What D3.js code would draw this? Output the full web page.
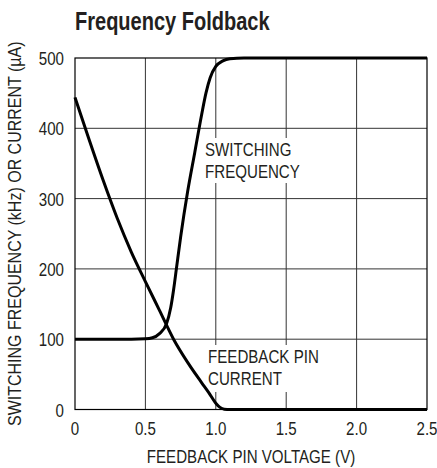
<!DOCTYPE html>
<html>
<head>
<meta charset="utf-8">
<script src="https://cdn.jsdelivr.net/npm/d3@7"></script>
<style>
  body { margin: 0; background: #fff; }
  text { font-family: "Liberation Sans Narrow", "Arial Narrow", "Liberation Sans", sans-serif; fill: #231f20; }
</style>
</head>
<body>
<div id="chart"></div>
<script>
// feedback pin voltage (V) and switching frequency (kHz)
const freqV = [0, 0.2, 0.4, 0.5, 0.55, 0.6, 0.65, 0.68, 0.7, 0.72, 0.75, 0.8, 0.85, 0.9, 0.93, 0.96, 1.0, 1.05, 1.1, 1.2, 1.5, 2.0, 2.5];
const freqKHz = [100, 100, 100, 100.5, 102, 108, 122, 145, 170, 200, 245, 310, 365, 420, 450, 472, 488, 496, 499, 500, 500, 500, 500];

// feedback pin voltage (V) and feedback pin current (uA)
const curV = [0, 0.1, 0.2, 0.3, 0.4, 0.5, 0.6, 0.7, 0.8, 0.9, 0.95, 1.0, 1.03, 1.06, 1.1, 1.5, 2.0, 2.5];
const curUA = [444, 384, 326, 272, 224, 182, 141, 100, 67, 38, 24, 9, 3, 0.5, 0, 0, 0, 0];

const xTicks = [0, 0.5, 1.0, 1.5, 2.0, 2.5];
const xTickLabels = ["0", "0.5", "1.0", "1.5", "2.0", "2.5"];
const yTicks = [0, 100, 200, 300, 400, 500];

const width = 437;
const height = 468;
const margin = { top: 58, right: 10, bottom: 58.5, left: 75 };
const narrow = 0.84; // no condensed font installed, squeeze the sans instead

const svg = d3.select("#chart")
  .append("svg")
  .attr("width", width)
  .attr("height", height);

var x = d3.scaleLinear()
  .domain([0, 2.5])
  .range([margin.left, width - margin.right]);

var y = d3.scaleLinear()
  .domain([0, 500])
  .range([height - margin.bottom, margin.top]);

function txt(g, tx, ty, str, anchor, size) {
  return g.append("text")
    .attr("transform", "translate(" + tx + "," + ty + ") scale(" + narrow + ",1)")
    .attr("text-anchor", anchor)
    .style("font-size", size + "px")
    .text(str);
}

// title
txt(svg, 75, 29.5, "Frequency Foldback", "start", 26)
  .attr("transform", "translate(75,29.5) scale(0.77,1)")
  .style("font-weight", "bold");

// grid
svg.append("g")
  .selectAll("line")
  .data(xTicks.slice(1, -1))
  .enter()
  .append("line")
  .attr("x1", d => x(d)).attr("x2", d => x(d))
  .attr("y1", y(0)).attr("y2", y(500))
  .attr("stroke", "#333").attr("stroke-width", 1);

svg.append("g")
  .selectAll("line")
  .data(yTicks.slice(1, -1))
  .enter()
  .append("line")
  .attr("x1", x(0)).attr("x2", x(2.5))
  .attr("y1", d => y(d)).attr("y2", d => y(d))
  .attr("stroke", "#333").attr("stroke-width", 1);

svg.append("rect")
  .attr("x", x(0)).attr("y", y(500))
  .attr("width", x(2.5) - x(0)).attr("height", y(0) - y(500))
  .attr("fill", "none").attr("stroke", "#000").attr("stroke-width", 1.2);

// axis tick labels
yTicks.forEach(d => txt(svg, 64, y(d) + 7, d, "end", 18));
xTicks.forEach((d, i) => txt(svg, x(d), 435, xTickLabels[i], "middle", 18));

txt(svg, (x(0) + x(2.5)) / 2, 463, "FEEDBACK PIN VOLTAGE (V)", "middle", 18);

var ylab = svg.append("text")
  .attr("text-anchor", "middle")
  .style("font-size", "18px")
  .text("SWITCHING FREQUENCY (kHz) OR CURRENT (\u00b5A)");
var k = 385 / ylab.node().getComputedTextLength();
ylab.attr("transform", "translate(21," + (y(0) + y(500)) / 2 + ") rotate(-90) scale(" + k + ",1)");

// curve labels, white boxes break the grid
svg.append("rect").attr("x", 203).attr("y", 138).attr("width", 90).attr("height", 45).attr("fill", "#fff");
svg.append("rect").attr("x", 206).attr("y", 345).attr("width", 115).attr("height", 47).attr("fill", "#fff");

function label(lines, lx, ly) {
  lines.forEach((t, i) => txt(svg, lx, ly + i * 22, t, "start", 18));
}
label(["SWITCHING", "FREQUENCY"], 205, 156);
label(["FEEDBACK PIN", "CURRENT"], 208, 363);

// curves
var line = d3.line()
  .x(d => x(d[0]))
  .y(d => y(d[1]))
  .curve(d3.curveMonotoneX);

svg.append("path")
  .datum(d3.zip(freqV, freqKHz))
  .attr("d", line)
  .attr("fill", "none")
  .attr("stroke", "#000")
  .attr("stroke-width", 3);

svg.append("path")
  .datum(d3.zip(curV, curUA))
  .attr("d", line)
  .attr("fill", "none")
  .attr("stroke", "#000")
  .attr("stroke-width", 3);
</script>
</body>
</html>
